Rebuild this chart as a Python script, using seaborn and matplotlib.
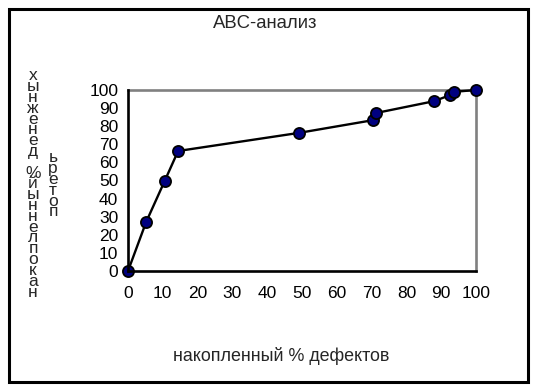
import matplotlib
matplotlib.use("Agg")
import matplotlib.pyplot as plt
import seaborn as sns
import pandas as pd
from matplotlib.patches import Rectangle

sns.set_style("white")
plt.rcParams['font.family'] = ['Liberation Sans', 'DejaVu Sans']

title = "ABC-анализ"
x_label = "накопленный % дефектов"
y_label_col1 = "накопленный% денежных"
y_label_col2 = "потерь"

cum_defects = [0, 5.2, 10.6, 14.4, 49.1, 70.3, 71.3, 87.9, 92.6, 93.7, 100]
cum_losses = [0, 27, 50, 66.3, 76.3, 83.3, 87.3, 93.8, 97.2, 99.0, 100]
ticks = list(range(0, 101, 10))

df = pd.DataFrame({"x": cum_defects, "y": cum_losses})

fig = plt.figure(figsize=(5.34, 3.92), dpi=100)
ax = fig.add_axes([128/534, 1-271/392, (476-128)/534, (271-90)/392])

sns.lineplot(data=df, x="x", y="y", sort=False, ax=ax, color="black",
             linewidth=1.7, marker="o", markersize=8,
             markerfacecolor="#000080", markeredgecolor="black",
             markeredgewidth=1.3, clip_on=False, zorder=5)

ax.set_xlim(0, 100)
ax.set_ylim(0, 100)
ax.set_xticks(ticks)
ax.set_yticks(ticks)
ax.set_xlabel("")
ax.set_ylabel("")
ax.tick_params(axis="both", direction="out", length=4, width=1.6,
               labelsize=12.5, colors="black", pad=3)
ax.tick_params(axis="x", pad=7)
for s in ["left", "bottom"]:
    ax.spines[s].set_color("black")
    ax.spines[s].set_linewidth(1.9)
for s in ["top", "right"]:
    ax.spines[s].set_color("#808080")
    ax.spines[s].set_linewidth(1.9)
ax.spines["left"].set_zorder(6)
ax.spines["bottom"].set_zorder(6)

fig.text(265/534, 1-23/392, title, ha="center", va="center", fontsize=13.3)
fig.text(281/534, 1-356/392, x_label, ha="center", va="center", fontsize=12.9)

col1 = "\n".join(reversed(y_label_col1))
col2 = "\n".join(reversed(y_label_col2))
fig.text(33/534, 1-184/392, col1, ha="center", va="center", fontsize=12.5,
         linespacing=0.65)
fig.text(53/534, 1-185/392, col2, ha="center", va="center", fontsize=12.5,
         linespacing=0.65)

fig.patches.append(Rectangle((9/534, 1-382/392), (528-9)/534, (382-9)/392,
                             transform=fig.transFigure, fill=False,
                             edgecolor="black", linewidth=2.2))

fig.savefig("out.png", dpi=100)
